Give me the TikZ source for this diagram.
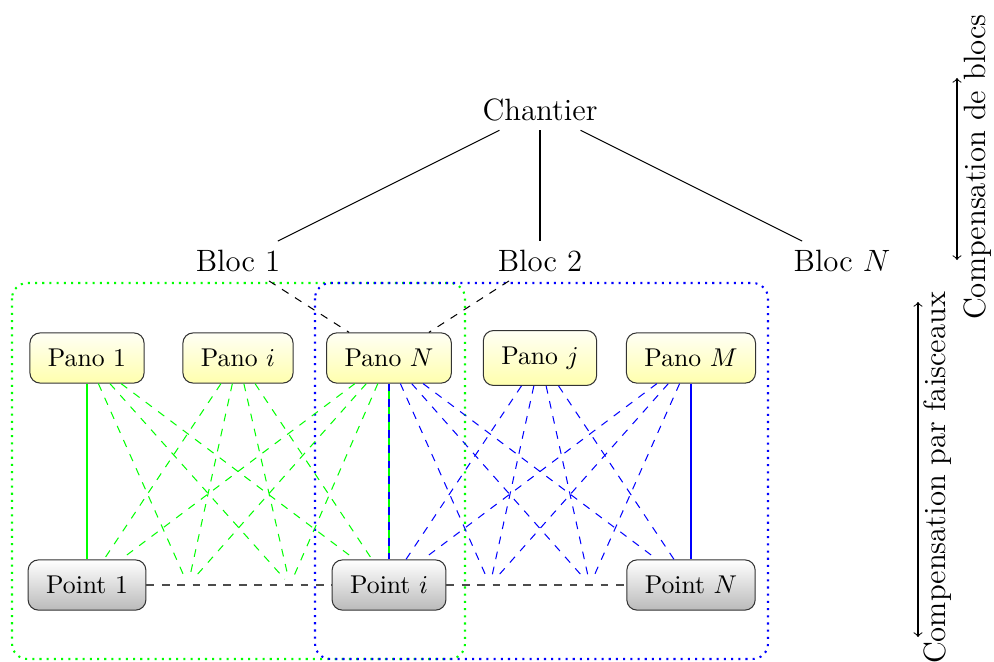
\documentclass[tikz,border=0pt]{standalone}
\begin{document}
\begin{tikzpicture}[x=0.3891pt,y=-0.3891pt,
  pano/.style={draw=black!80, rounded corners=4pt, top color=yellow!4, bottom color=yellow!32, inner xsep=7pt, inner ysep=6.3pt},
  pt/.style={draw=black!80, rounded corners=4pt, top color=white, bottom color=black!27, inner xsep=7pt, inner ysep=6.3pt},
  lvl/.style={font=\large},
  hid/.style={circle, inner sep=2pt},
  gdash/.style={green, dashed},
  bdash/.style={blue, dashed},
  grp/.style={thick, dotted, rounded corners=6pt},
  side/.style={font=\large, rotate=90}]
\useasboundingbox (0,0) rectangle (994,662);
% group frames
\draw[grp, green] (12,283) rectangle (465,659);
\draw[grp, blue] (315,283) rectangle (768,659);
% hierarchy
\node[lvl] (chantier) at (540,110) {Chantier};
\node[lvl] (bloc1) at (238,261) {Bloc 1};
\node[lvl] (bloc2) at (540,261) {Bloc 2};
\node[lvl] (blocN) at (842,261) {Bloc $N$};
% panos
\node[pano] (pano1) at (87,358) {Pano 1};
\node[pano] (panoi) at (238,358) {Pano $i$};
\node[pano] (panoN) at (389,358) {Pano $N$};
\node[pano] (panoj) at (540,358) {Pano $j$};
\node[pano] (panoM) at (691,358) {Pano $M$};
% points
\node[pt] (point1) at (87,585) {Point 1};
\node[pt] (pointi) at (389,585) {Point $i$};
\node[pt] (pointN) at (691,585) {Point $N$};
\node[hid] (p2) at (188,585) {};
\node[hid] (p3) at (290,585) {};
\node[hid] (p5) at (490,585) {};
\node[hid] (p6) at (590,585) {};
% hierarchy edges
\draw (chantier) -- (bloc1);
\draw (chantier) -- (bloc2);
\draw (chantier) -- (blocN);
\draw[dashed] (bloc1) -- (panoN);
\draw[dashed] (bloc2) -- (panoN);
% points line
\draw[dashed, black!70] (point1) -- (pointi);
\draw[dashed, black!70] (pointi) -- (pointN);
% green group
\draw[green] (pano1) -- (point1);
\draw[green] (panoN) -- (pointi);
\foreach \t in {p2,p3,pointi} \draw[gdash] (pano1) -- (\t);
\foreach \t in {point1,p2,p3,pointi} \draw[gdash] (panoi) -- (\t);
\foreach \t in {point1,p2,p3} \draw[gdash] (panoN) -- (\t);
% blue group
\foreach \t in {pointi,p5,p6,pointN} \draw[bdash] (panoN) -- (\t);
\foreach \t in {pointi,p5,p6,pointN} \draw[bdash] (panoj) -- (\t);
\foreach \t in {pointi,p5,p6} \draw[bdash] (panoM) -- (\t);
\draw[blue] (panoM) -- (pointN);
% side annotations
\coordinate (a1) at (957,78);
\coordinate (a2) at (957,260);
\coordinate (b1) at (918,302);
\coordinate (b2) at (918,637);
\draw[<->] (a1) -- (a2);
\draw[<->] (b1) -- (b2);
\node[side] (lab1) at (978,167) {Compensation de blocs};
\node[side] (lab2) at (938,478) {Compensation par faisceaux};
\end{tikzpicture}
\end{document}
